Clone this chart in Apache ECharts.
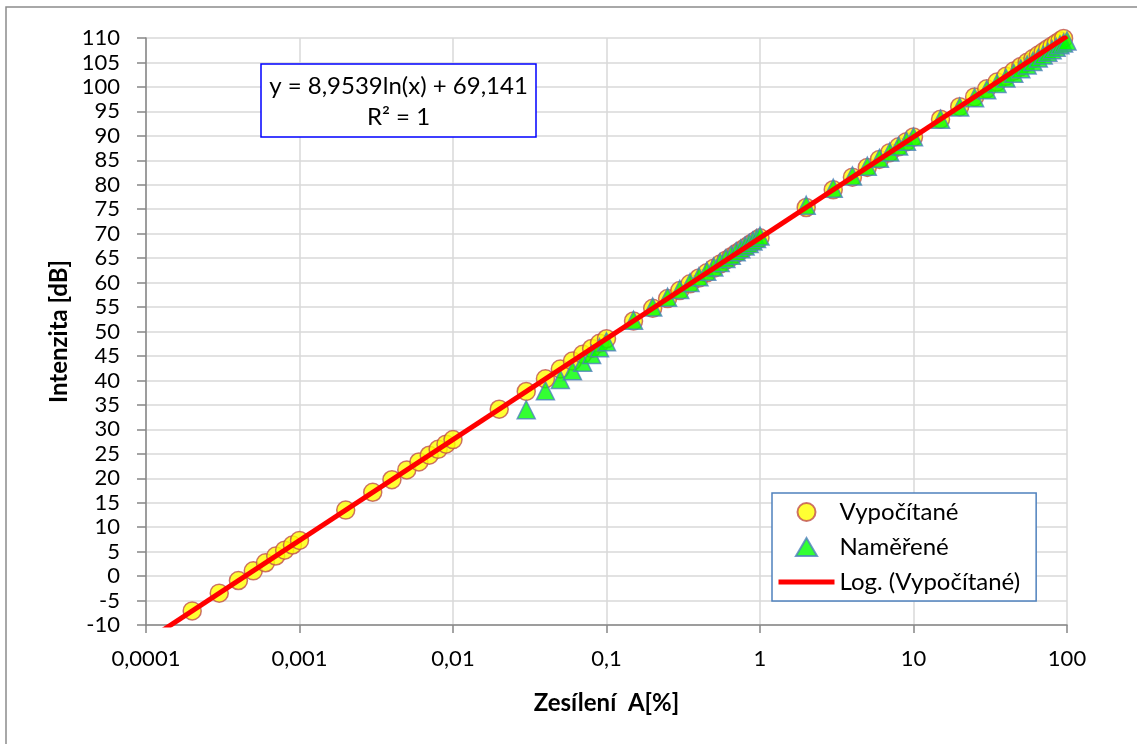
<!DOCTYPE html>
<html>
<head>
<meta charset="utf-8">
<title>Intenzita</title>
<script src="https://cdn.jsdelivr.net/npm/echarts@6/dist/echarts.min.js"></script>
<style>
	html, body { margin: 0; padding: 0; background: #fff; }
	#container { width: 1137px; height: 744px; }
</style>
</head>
<body>
<div id="container"></div>
<script>
/*vypočítané body*/
var xCalc = [0.0002, 0.0003, 0.0004, 0.0005, 0.0006, 0.0007, 0.0008, 0.0009, 0.001,
	0.002, 0.003, 0.004, 0.005, 0.006, 0.007, 0.008, 0.009, 0.01,
	0.02, 0.03, 0.04, 0.05, 0.06, 0.07, 0.08, 0.09, 0.1,
	0.15, 0.2, 0.25, 0.3, 0.35, 0.4, 0.45, 0.5, 0.55, 0.6, 0.65, 0.7, 0.75, 0.8, 0.85, 0.9, 0.95, 1,
	2, 3, 4, 5, 6, 7, 8, 9, 10,
	15, 20, 25, 30, 35, 40, 45, 50, 55, 60, 65, 70, 75, 80, 85, 90, 95, 100];
var yCalc = [-7.12, -3.49, -0.91, 1.08, 2.72, 4.10, 5.29, 6.35, 7.29,
	13.50, 17.13, 19.70, 21.70, 23.33, 24.71, 25.91, 26.96, 27.91,
	34.11, 37.74, 40.32, 42.32, 43.95, 45.33, 46.53, 47.58, 48.52,
	52.15, 54.73, 56.73, 58.36, 59.74, 60.94, 61.99, 62.93, 63.79, 64.57, 65.28, 65.95, 66.57, 67.14, 67.69, 68.20, 68.68, 69.14,
	75.35, 78.98, 81.55, 83.55, 85.18, 86.56, 87.76, 88.81, 89.76,
	93.39, 95.96, 97.96, 99.60, 100.98, 102.17, 103.23, 104.17, 105.02, 105.80, 106.52, 107.18, 107.80, 108.38, 108.92, 109.43, 109.92, 110.38];

/*naměřené body*/
var xMeas = [0.03, 0.04, 0.05, 0.06, 0.07, 0.08, 0.09, 0.1,
	0.15, 0.2, 0.25, 0.3, 0.35, 0.4, 0.45, 0.5, 0.55, 0.6, 0.65, 0.7, 0.75, 0.8, 0.85, 0.9, 0.95, 1,
	2, 3, 4, 5, 6, 7, 8, 9, 10,
	15, 20, 25, 30, 35, 40, 45, 50, 55, 60, 65, 70, 75, 80, 85, 90, 95, 100];
var yMeas = [34.0, 37.9, 40.2, 42.0, 43.7, 45.3, 46.7, 47.9,
	52.3, 55.0, 57.0, 58.6, 60.0, 61.2, 62.3, 63.2, 64.1, 64.9, 65.6, 66.3, 66.9, 67.5, 68.0, 68.5, 69.0, 69.5,
	75.8, 79.3, 81.8, 83.8, 85.4, 86.7, 87.9, 88.9, 89.8,
	93.4, 95.9, 97.8, 99.4, 100.7, 101.8, 102.8, 103.7, 104.5, 105.2, 105.9, 106.5, 107.1, 107.6, 108.1, 108.6, 109.0, 109.4];

/*logaritmická spojnice trendu*/
var xTrend = [0.0001, 100];
var yTrend = [-13.33, 110.38];

var seriesNames = ['Vypočítané', 'Naměřené', 'Log. (Vypočítané)'];
var trendText = 'y = 8,9539ln(x) + 69,141\nR² = 1';
var xTitle = 'Zesílení  A[%]';
var yTitle = 'Intenzita [dB]';

function pairs(xs, ys) {
	var out = [];
	for (var i = 0; i < xs.length; i++) {
		out.push([xs[i], ys[i]]);
	}
	return out;
}

var font = 'Lato';
var chart = echarts.init(document.getElementById('container'));

var option = {
	backgroundColor: '#fff',
	animation: false,
	textStyle: { fontFamily: font, color: '#000' },
	grid: { left: 146, right: 70, top: 38, bottom: 119 },
	xAxis: {
		type: 'log',
		logBase: 10,
		min: 0.0001,
		max: 100,
		name: xTitle,
		nameLocation: 'middle',
		nameGap: 66,
		nameTextStyle: { fontFamily: font, fontSize: 24, fontWeight: 'bold', color: '#000' },
		axisLine: { onZero: false, lineStyle: { color: '#868686', width: 1.5 } },
		axisTick: { show: true, length: 8, lineStyle: { color: '#868686', width: 1.5 } },
		axisLabel: {
			margin: 23,
			fontFamily: font,
			fontSize: 22,
			color: '#000',
			formatter: function(v) {
				return String(Number(v.toPrecision(6))).replace('.', ',');
			}
		},
		splitLine: { show: true, lineStyle: { color: '#d9d9d9', width: 1.5 } },
		minorTick: { show: false },
		minorSplitLine: { show: false }
	},
	yAxis: {
		type: 'value',
		min: -10,
		max: 110,
		interval: 5,
		name: yTitle,
		nameLocation: 'middle',
		nameGap: 74,
		nameRotate: 90,
		nameTextStyle: { fontFamily: font, fontSize: 24, fontWeight: 'bold', color: '#000' },
		axisLine: { show: true, lineStyle: { color: '#868686', width: 1.5 } },
		axisTick: { show: true, length: 9, lineStyle: { color: '#868686', width: 1.5 } },
		axisLabel: { margin: 26, fontFamily: font, fontSize: 22, color: '#000' },
		splitLine: { show: true, lineStyle: { color: '#d9d9d9', width: 1.5 } }
	},
	legend: {
		orient: 'vertical',
		left: 772,
		top: 493,
		padding: [7, 16, 7, 4],
		borderColor: '#4F81BD',
		borderWidth: 1.5,
		backgroundColor: '#fff',
		itemWidth: 56,
		itemHeight: 18,
		itemGap: 11,
		textStyle: { fontFamily: font, fontSize: 24, color: '#000' },
		data: [
			{ name: seriesNames[0], icon: 'circle' },
			{ name: seriesNames[1], icon: 'path://M10,0 L20,17 L0,17 Z' },
			{ name: seriesNames[2], itemStyle: { opacity: 0 }, lineStyle: { color: '#FF0000', width: 5 } }
		]
	},
	series: [{
		name: seriesNames[0],
		type: 'scatter',
		symbol: 'circle',
		symbolSize: 18,
		z: 2,
		itemStyle: { color: '#FFFF00', borderColor: '#C0504D', borderWidth: 1.5 },
		data: pairs(xCalc, yCalc)
	}, {
		name: seriesNames[1],
		type: 'scatter',
		symbol: 'triangle',
		symbolSize: 18,
		z: 3,
		itemStyle: { color: '#00FF00', borderColor: '#4F81BD', borderWidth: 1.5 },
		data: pairs(xMeas, yMeas)
	}, {
		name: seriesNames[2],
		type: 'line',
		showSymbol: false,
		symbol: 'none',
		clip: true,
		z: 4,
		lineStyle: { color: '#FF0000', width: 5 },
		itemStyle: { color: '#FF0000' },
		data: pairs(xTrend, yTrend)
	}],
	graphic: [{
		/*rámeček grafu*/
		type: 'polyline',
		silent: true,
		shape: { points: [[6, 744], [6, 7], [1137, 7]] },
		style: { fill: null, stroke: '#8c8c8c', lineWidth: 1.5 }
	}, {
		/*rovnice trendu*/
		type: 'rect',
		z: 100,
		shape: { x: 261, y: 64, width: 275, height: 73 },
		style: { fill: '#fff', stroke: '#0000FF', lineWidth: 1.5 }
	}, {
		type: 'text',
		z: 101,
		x: 398.5,
		y: 71,
		style: {
			text: trendText,
			align: 'center',
			verticalAlign: 'top',
			font: '24px Lato',
			lineHeight: 31,
			fill: '#000'
		}
	}]
};

chart.setOption(option);
</script>
</body>
</html>
